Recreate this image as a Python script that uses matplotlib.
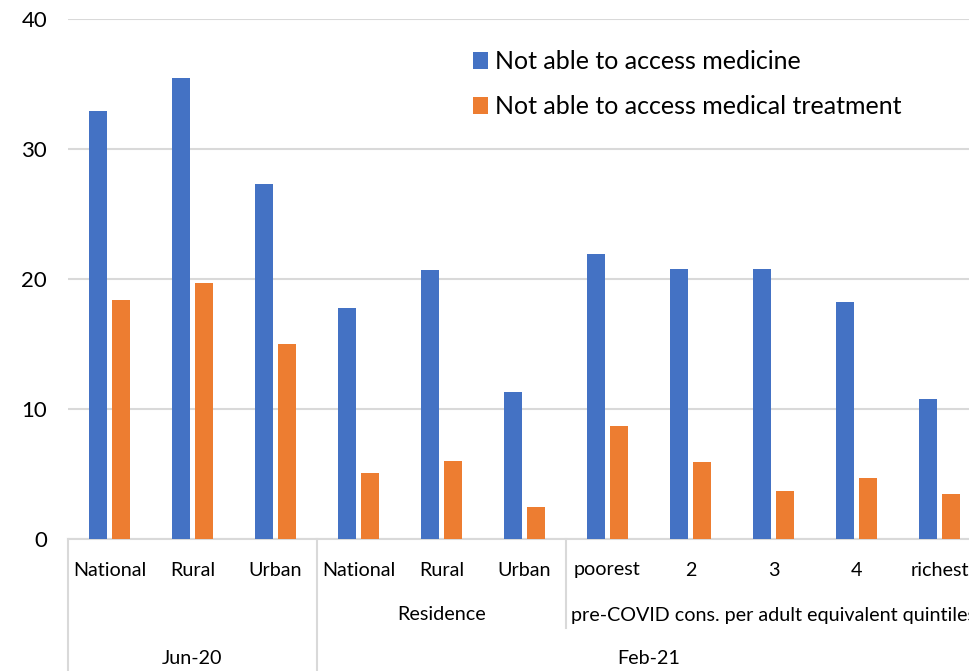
import matplotlib.pyplot as plt
import matplotlib.transforms as mtransforms
import numpy as np
from matplotlib.lines import Line2D

# data
categories = ["National", "Rural", "Urban", "National", "Rural", "Urban",
              "poorest", "2", "3", "4", "richest"]
medicine = [32.9, 35.5, 27.3, 17.8, 20.7, 11.3, 21.9, 20.8, 20.8, 18.2, 10.8]
treatment = [18.4, 19.7, 15.0, 5.1, 6.0, 2.5, 8.7, 5.9, 3.7, 4.7, 3.5]
series_names = ["Not able to access medicine", "Not able to access medical treatment"]

# second level groups: (label, first index, last index)
sub_groups = [("Residence", 3, 5), ("pre-COVID cons. per adult equivalent quintiles", 6, 10)]
top_groups = [("Jun-20", 0, 2), ("Feb-21", 3, 10)]

BLUE = "#4472C4"
ORANGE = "#ED7D31"
GRID = "#d9d9d9"
FONT = "Lato"

plt.rcParams["font.family"] = [FONT, "DejaVu Sans"]

W, H = 970, 671
fig = plt.figure(figsize=(W / 100, H / 100), dpi=100)
ax = fig.add_axes([68 / W, 1 - 539 / H, 913 / W, (539 - 19) / H])

x = np.arange(len(categories))
bw = 0.217
off = 0.139
ax.bar(x - off, medicine, bw, color=BLUE, label=series_names[0], zorder=3)
ax.bar(x + off, treatment, bw, color=ORANGE, label=series_names[1], zorder=3)

ax.set_xlim(-0.5, len(categories) - 0.5)
ax.set_ylim(0, 40)
ax.set_yticks([0, 10, 20, 30, 40])
ax.yaxis.grid(True, color=GRID, linewidth=1.5, zorder=0)
ax.set_axisbelow(True)
for s in ["top", "right", "left"]:
    ax.spines[s].set_visible(False)
ax.spines["bottom"].set_color(GRID)
ax.spines["bottom"].set_linewidth(1.5)
ax.tick_params(axis="y", length=0, pad=15, labelsize=16)
ax.tick_params(axis="x", length=0)
ax.set_xticks([])

# multi-level category axis
trans = mtransforms.blended_transform_factory(ax.transData, fig.transFigure)
row_y = [1 - 570 / H, 1 - 615 / H, 1 - 659 / H]
y_axis = 1 - 539 / H
fs = 14.2

for i, c in enumerate(categories):
    ax.text(i, row_y[0], c, transform=trans, ha="center", va="center", fontsize=fs)
for label, a, b in sub_groups:
    ax.text((a + b) / 2, row_y[1], label, transform=trans, ha="center", va="center", fontsize=fs)
for label, a, b in top_groups:
    ax.text((a + b) / 2, row_y[2], label, transform=trans, ha="center", va="center", fontsize=fs)

# separators
for xb, ybot in [(-0.5, 0.0), (2.5, 0.0), (5.5, 1 - 628 / H), (10.5, 0.0)]:
    ax.add_line(Line2D([xb, xb], [y_axis, ybot], transform=trans, color=GRID,
                       linewidth=1.5, clip_on=False))

ax.legend(loc="upper left", bbox_to_anchor=(473 / W, 1 - 50 / H), bbox_transform=fig.transFigure,
          frameon=False, fontsize=18, handlelength=0.6, handleheight=0.68,
          handletextpad=0.28, labelspacing=0.9, borderpad=0, borderaxespad=0)

fig.savefig("out.png", dpi=100)
